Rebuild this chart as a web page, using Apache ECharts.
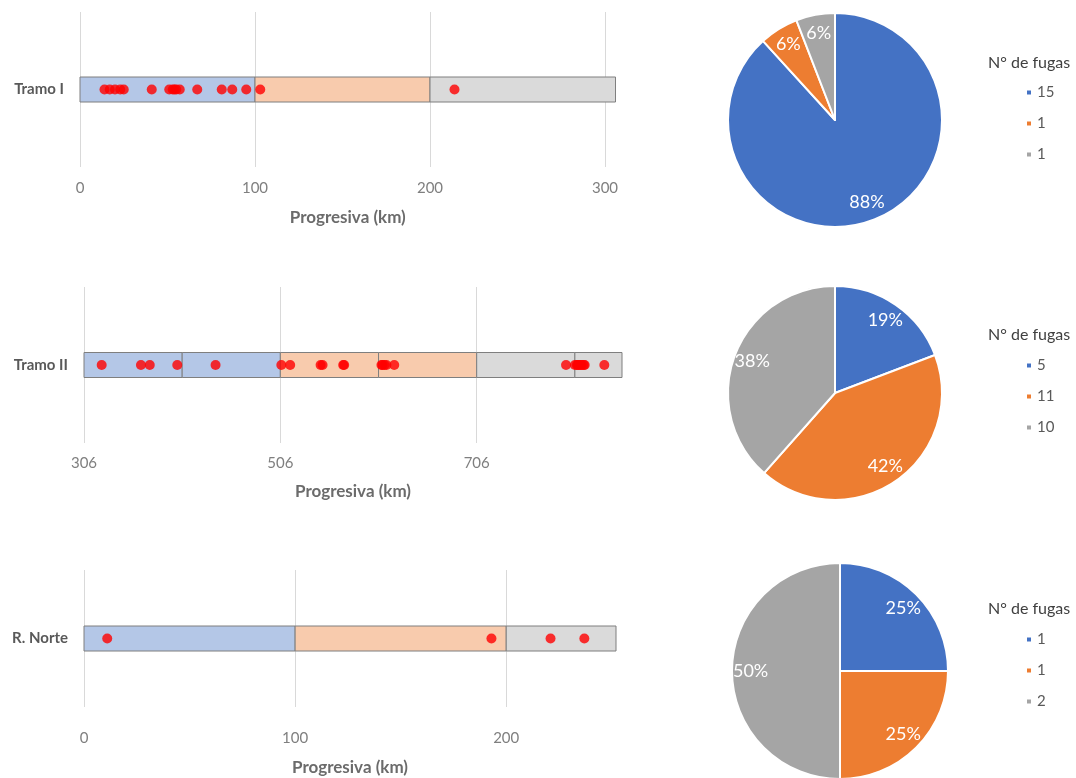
<!DOCTYPE html>
<html>
<head>
<meta charset="utf-8">
<script src="https://cdn.jsdelivr.net/npm/echarts@6/dist/echarts.min.js"></script>
<style>
html,body{margin:0;padding:0;background:#fff;}
#c{width:1076px;height:778px;}
</style>
</head>
<body>
<div id="c"></div>
<script>
// ---- data ----
const tramoNames = ['Tramo I', 'Tramo II', 'R. Norte'];

// segment boundaries (km) and colour group of each segment
const tramo1Bounds = [0, 100, 200, 306];
const tramo1Groups = ['blue', 'orange', 'gray'];
const tramo2Bounds = [306, 406, 506, 606, 706, 806, 854];
const tramo2Groups = ['blue', 'blue', 'orange', 'orange', 'gray', 'gray'];
const norteBounds = [0, 100, 200, 252];
const norteGroups = ['blue', 'orange', 'gray'];

// leak positions (km)
const tramo1Fugas = [14, 17, 20, 23, 25, 41, 51, 53, 54, 55, 57, 67, 81, 87, 95, 103, 214];
const tramo2Fugas = [324, 364, 373, 401, 440, 507, 516, 547, 549, 570, 571, 609, 610, 612, 614, 622, 797, 806, 808, 809, 810, 812, 813, 815, 816, 836];
const norteFugas = [11, 193, 221, 237];

// pie counts (N° de fugas per colour zone)
const zoneNames1 = ['Tramo I: 0-100 km', 'Tramo I: 100-200 km', 'Tramo I: 200-306 km'];
const zoneNames2 = ['Tramo II: 306-506 km', 'Tramo II: 506-706 km', 'Tramo II: 706-854 km'];
const zoneNames3 = ['R. Norte: 0-100 km', 'R. Norte: 100-200 km', 'R. Norte: 200-252 km'];
const pie1Counts = [15, 1, 1];
const pie2Counts = [5, 11, 10];
const pie3Counts = [1, 1, 2];

// axis ticks
const axis1 = {min: 0, max: 306, interval: 100};
const axis2 = {min: 306, max: 854, interval: 200};
const axis3 = {min: 0, max: 252, interval: 100};

// ---- styles ----
const FONT = 'Lato, "Open Sans", sans-serif';
const barFill = {blue: '#b4c7e7', orange: '#f8cbad', gray: '#dadada'};
const pieColors = ['#4472c4', '#ed7d31', '#a5a5a5'];

const chart = echarts.init(document.getElementById('c'), null, {renderer: 'canvas'});

const grids = [
  {left: 80, top: 12, width: 535.5, height: 155},
  {left: 84, top: 287, width: 538, height: 156},
  {left: 84, top: 570, width: 532, height: 137}
];
const axes = [axis1, axis2, axis3];
const nameGaps = [42, 40, 52];
const labelMargins = [14, 13, 24];

const xAxes = axes.map((a, i) => ({
  type: 'value', gridIndex: i, min: a.min, max: a.max, interval: a.interval,
  axisLine: {show: false}, axisTick: {show: false},
  splitLine: {show: true, showMaxLine: false, lineStyle: {color: '#d9d9d9', width: 1}},
  axisLabel: {showMaxLabel: false, color: '#7f7f7f', fontSize: 15, fontFamily: FONT, margin: labelMargins[i]},
  name: 'Progresiva (km)', nameLocation: 'middle', nameGap: nameGaps[i],
  nameTextStyle: {color: '#6b6b6b', fontSize: 17, fontWeight: 'bold', fontFamily: FONT}
}));
const yAxes = tramoNames.map((n, i) => ({
  type: 'category', gridIndex: i, data: [n],
  axisLine: {show: false}, axisTick: {show: false}, splitLine: {show: false},
  axisLabel: {color: '#595959', fontSize: 15, fontWeight: 'bold', fontFamily: FONT, margin: 16}
}));

function segData(bounds, groups) {
  const out = [];
  for (let k = 0; k < groups.length; k++) {
    out.push({value: [bounds[k], bounds[k + 1], 0], itemStyle: {color: barFill[groups[k]]}});
  }
  return out;
}
function barSeries(i, bounds, groups) {
  return {
    type: 'custom', xAxisIndex: i, yAxisIndex: i, z: 2, silent: true,
    encode: {x: [0, 1], y: 2},
    data: segData(bounds, groups),
    renderItem: function (params, api) {
      const s = api.coord([api.value(0), api.value(2)]);
      const e = api.coord([api.value(1), api.value(2)]);
      const h = 25;
      return {
        type: 'rect',
        shape: {x: s[0], y: s[1] - h / 2, width: e[0] - s[0], height: h},
        style: {fill: api.visual('color'), stroke: '#7f7f7f', lineWidth: 1}
      };
    }
  };
}
function dotSeries(i, pts, cat) {
  return {
    type: 'scatter', xAxisIndex: i, yAxisIndex: i, z: 5, silent: true,
    symbol: 'circle', symbolSize: 10,
    itemStyle: {color: '#ff0000'},
    data: pts.map(v => [v, cat])
  };
}

const pieDefs = [
  {names: zoneNames1, counts: pie1Counts, center: [835, 120], r: 107},
  {names: zoneNames2, counts: pie2Counts, center: [835, 393], r: 107},
  {names: zoneNames3, counts: pie3Counts, center: [840, 671], r: 108}
];
const pieSeries = [];
pieDefs.forEach((p) => {
  const data = p.names.map((n, k) => ({name: n, value: p.counts[k], itemStyle: {color: pieColors[k]}}));
  pieSeries.push({
    type: 'pie', center: p.center, radius: [0, p.r], startAngle: 90, clockwise: true,
    silent: true, label: {show: false}, labelLine: {show: false},
    itemStyle: {borderColor: '#ffffff', borderWidth: 2},
    data: data
  });
  pieSeries.push({
    type: 'pie', center: p.center, radius: [p.r * 0.6, p.r], startAngle: 90, clockwise: true,
    silent: true, labelLine: {show: false},
    itemStyle: {color: 'rgba(0,0,0,0)', borderWidth: 0},
    label: {show: true, position: 'inside', color: '#ffffff', fontSize: 18, fontFamily: FONT,
      formatter: (q) => Math.round(q.percent) + '%'},
    data: p.names.map((n, k) => ({name: n, value: p.counts[k], itemStyle: {color: 'rgba(0,0,0,0)'}}))
  });
});

const legendTops = [80, 353, 627];
const legends = pieDefs.map((p, i) => {
  const map = {};
  p.names.forEach((n, k) => { map[n] = String(p.counts[k]); });
  return {
    orient: 'vertical', left: 1020, top: legendTops[i], itemGap: 16,
    icon: 'rect', itemWidth: 6, itemHeight: 6, selectedMode: false,
    data: p.names,
    formatter: (n) => map[n],
    textStyle: {color: '#595959', fontSize: 15, fontFamily: FONT}
  };
});

const titles = [50, 322, 596].map(t => ({
  text: 'N° de fugas', left: 983, top: t,
  textStyle: {color: '#404040', fontSize: 16, fontWeight: 'normal', fontFamily: FONT}
}));

chart.setOption({
  animation: false,
  backgroundColor: '#ffffff',
  title: titles,
  grid: grids,
  xAxis: xAxes,
  yAxis: yAxes,
  legend: legends,
  series: [
    barSeries(0, tramo1Bounds, tramo1Groups),
    barSeries(1, tramo2Bounds, tramo2Groups),
    barSeries(2, norteBounds, norteGroups),
    dotSeries(0, tramo1Fugas, tramoNames[0]),
    dotSeries(1, tramo2Fugas, tramoNames[1]),
    dotSeries(2, norteFugas, tramoNames[2])
  ].concat(pieSeries)
});
</script>
</body>
</html>
